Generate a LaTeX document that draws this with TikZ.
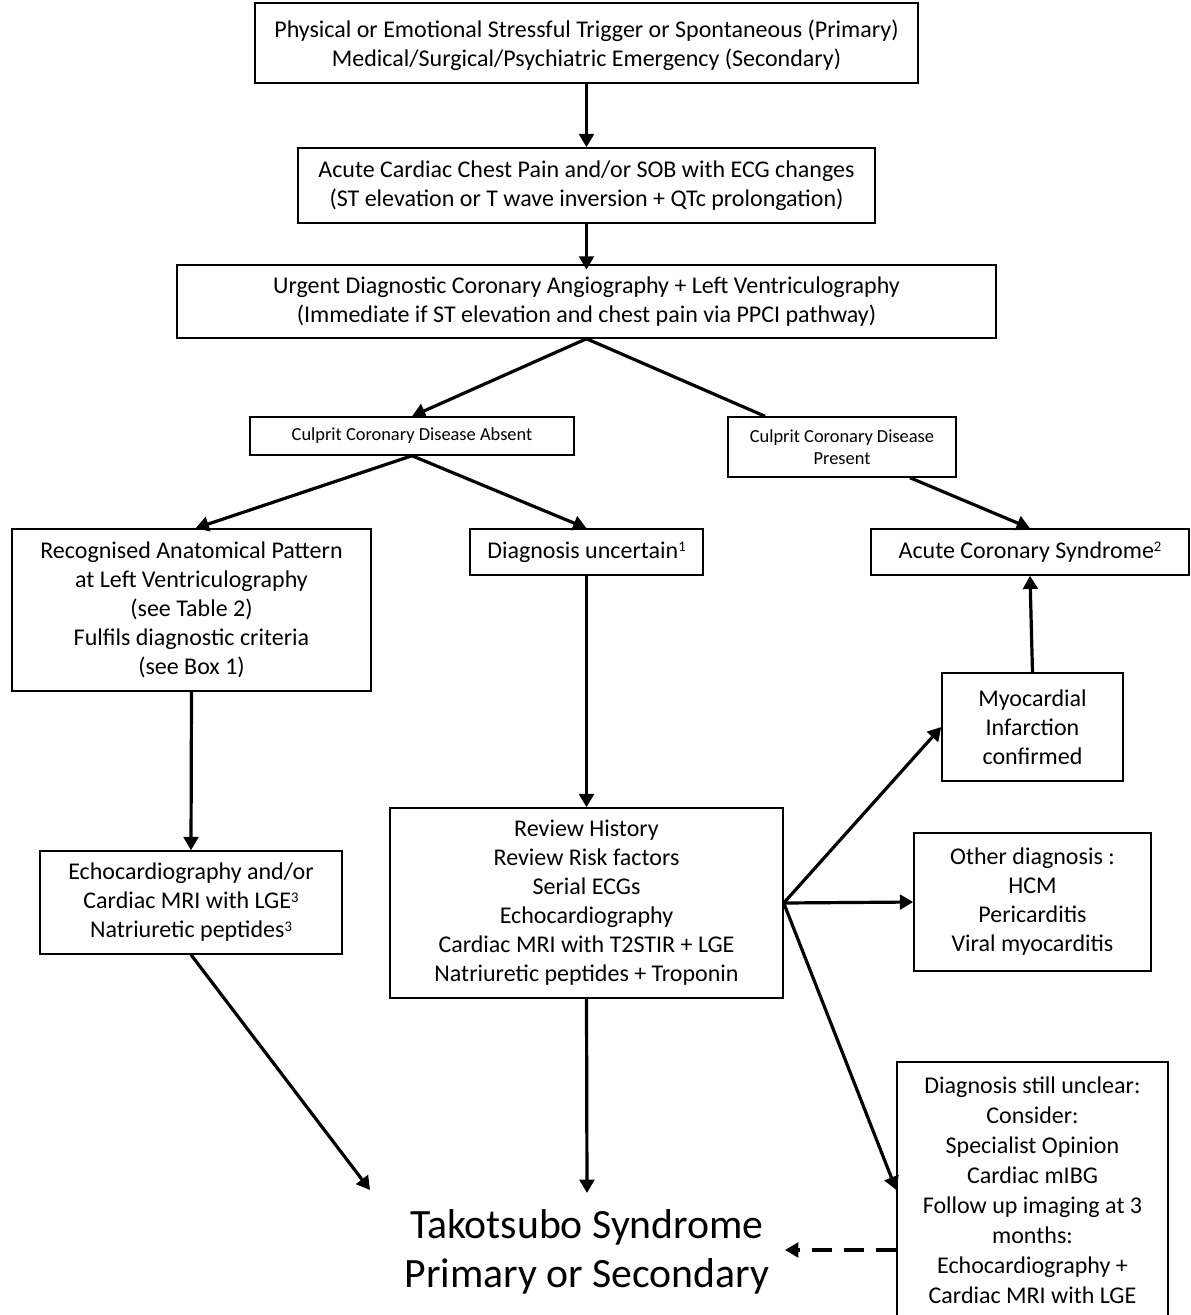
\documentclass[tikz,border=0pt]{standalone}
\usepackage{fontspec}
\setmainfont{Carlito}
\usetikzlibrary{arrows.meta}
\tikzset{
  box/.style={draw, line width=1.1pt, align=center, inner sep=0pt, font=\fontsize{18}{21.75}\selectfont},
  smallbox/.style={box, font=\fontsize{13.8}{16.5}\selectfont},
  arr/.style={line width=2.4pt, -{Triangle[length=10pt,width=11pt]}},
  plain/.style={line width=2.4pt},
}
\newcommand{\sups}[1]{\raisebox{0.6ex}{\fontsize{11}{11}\selectfont #1}}
\begin{document}
\begin{tikzpicture}[x=0.75pt,y=-0.75pt]
\useasboundingbox (0,0) rectangle (1190,1315);
\node[box, minimum width=497.25pt, minimum height=60pt, text depth=-1.5pt] (top) at (586.5,43)
  {Physical or Emotional Stressful Trigger or Spontaneous (Primary)\\Medical/Surgical/Psychiatric Emergency (Secondary)};
\node[box, minimum width=432.75pt, minimum height=56.25pt] (acute) at (586.5,185.5)
  {Acute Cardiac Chest Pain and/or SOB with ECG changes\\(ST elevation or T wave inversion + QTc prolongation)};
\node[box, minimum width=614.25pt, minimum height=54.75pt] (angio) at (586.5,301.5)
  {Urgent Diagnostic Coronary Angiography + Left Ventriculography\\(Immediate if ST elevation and chest pain via PPCI pathway)};
\node[smallbox, minimum width=243pt, minimum height=28.5pt] (absent) at (412,436)
  {Culprit Coronary Disease Absent};
\node[smallbox, minimum width=171pt, minimum height=45pt] (present) at (842,447)
  {Culprit Coronary Disease\\Present};
\node[box, minimum width=269.25pt, minimum height=121.5pt] (recog) at (191.5,610)
  {Recognised Anatomical Pattern\\at Left Ventriculography\\(see Table 2)\\Fulfils diagnostic criteria\\(see Box 1)};
\node[box, minimum width=174.75pt, minimum height=34.5pt] (uncert) at (586.5,552)
  {Diagnosis uncertain\sups{1}};
\node[box, minimum width=238.5pt, minimum height=34.5pt] (acs) at (1030,552)
  {Acute Coronary Syndrome\sups{2}};
\node[box, minimum width=135.75pt, minimum height=81pt] (myo) at (1032.5,727)
  {Myocardial\\Infarction\\confirmed};
\node[box, minimum width=226.5pt, minimum height=77.25pt] (echo) at (191,902.5)
  {Echocardiography and/or\\Cardiac MRI with LGE\sups{3}\\Natriuretic peptides\sups{3}};
\node[box, minimum width=294.75pt, minimum height=142.5pt] (review) at (586.5,903)
  {Review History\\Review Risk factors\\Serial ECGs\\Echocardiography\\Cardiac MRI with T2STIR + LGE\\Natriuretic peptides + Troponin};
\node[box, minimum width=177.75pt, minimum height=103.5pt] (other) at (1032.5,902)
  {Other diagnosis :\\HCM\\Pericarditis\\Viral myocarditis};
\node[box, minimum width=203.25pt, minimum height=192pt, font=\fontsize{18}{22.5}\selectfont] (unclear) at (1032.5,1190)
  {Diagnosis still unclear:\\Consider:\\Specialist Opinion\\Cardiac mIBG\\Follow up imaging at 3\\months:\\Echocardiography +\\Cardiac MRI with LGE};
\node[align=center, inner sep=0pt, font=\fontsize{31.3}{36.75}\selectfont] (tako) at (587,1252)
  {Takotsubo Syndrome\\Primary or Secondary};
\coordinate (t1) at (370,1190);
\coordinate (t2) at (587,1193);
\coordinate (t3) at (785,1250);

\draw[arr] (top.south) -- (acute.north);
\draw[arr] (acute.south) -- ([yshift=-4pt]angio.north);
\draw[arr] (angio.south) -- (absent.north);
\draw[plain] (angio.south) -- ([xshift=-57.75pt]present.north);
\draw[arr] (absent.south) -- ([xshift=3pt]recog.north);
\draw[arr] (absent.south) -- (uncert.north);
\draw[arr] ([xshift=51pt]present.south) -- (acs.north);
\draw[arr] (recog.south) -- (echo.north);
\draw[arr] (uncert.south) -- (review.north);
\draw[arr] (myo.north) -- (acs.south);
\draw[arr] (review.east) -- (myo.west);
\draw[arr] (review.east) -- (other.west);
\draw[arr] (review.east) -- (unclear.west);
\draw[arr] (echo.south) -- (t1);
\draw[arr] (review.south) -- (t2);
\draw[arr, dashed, dash pattern=on 15pt off 9pt] ([yshift=-45pt]unclear.west) -- (t3);
\end{tikzpicture}
\end{document}
